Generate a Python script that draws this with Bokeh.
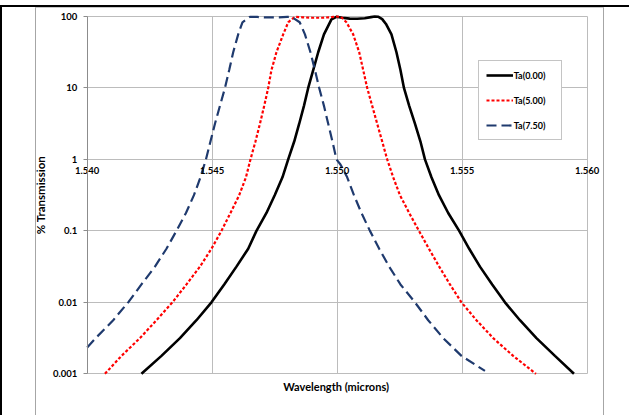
import math
from bokeh.plotting import figure
from bokeh.models import FixedTicker, Title, InlineStyleSheet
from bokeh.embed import file_html
from bokeh.resources import INLINE

# ---- data ----
x_ticks = [1.540, 1.545, 1.550, 1.555, 1.560]
x_tick_labels = ["1.540", "1.545", "1.550", "1.555", "1.560"]
y_ticks = [0.001, 0.01, 0.1, 1, 10, 100]
y_tick_labels = ["0.001", "0.01", "0.1", "1", "10", "100"]

ta000_wl = [1.54217, 1.54297, 1.54371, 1.54437, 1.54497, 1.54548, 1.54597, 1.54644, 1.54677,
            1.54717, 1.54750, 1.54781, 1.54804, 1.54828, 1.54848, 1.54867, 1.54884, 1.54904,
            1.54924, 1.54947, 1.54977, 1.54997, 1.55020, 1.55050, 1.55080, 1.55110, 1.55135,
            1.55150, 1.55165, 1.55180, 1.55195, 1.55217, 1.55237, 1.55253, 1.55267, 1.55288,
            1.55311, 1.55333, 1.55351, 1.55377, 1.55407, 1.55444, 1.55488, 1.55528, 1.55571,
            1.55620, 1.55671, 1.55731, 1.55797, 1.55871, 1.55947]
ta000_t = [0.001, 0.00178, 0.00316, 0.00562, 0.01, 0.0178, 0.0316, 0.0562, 0.1,
           0.178, 0.316, 0.562, 1.0, 1.78, 3.16, 5.62, 10.0, 17.8,
           31.6, 56.2, 91.0, 99.0, 96.0, 93.5, 93.0, 94.5, 98.0,
           100.0, 99.0, 92.0, 78.6, 56.2, 31.6, 17.8, 10.0, 5.62,
           3.16, 1.78, 1.0, 0.562, 0.316, 0.178, 0.1, 0.0562, 0.0316,
           0.0178, 0.01, 0.00562, 0.00316, 0.00178, 0.001]

ta500_wl = [1.54071, 1.54137, 1.54211, 1.54277, 1.54341, 1.54397, 1.54451, 1.54497, 1.54537,
            1.54573, 1.54608, 1.54635, 1.54653, 1.54673, 1.54691, 1.54708, 1.54724, 1.54737,
            1.54757, 1.54784, 1.54804, 1.54831, 1.54860, 1.54900, 1.54940, 1.54970, 1.54997,
            1.55015, 1.55037, 1.55064, 1.55088, 1.55104, 1.55120, 1.55140, 1.55160, 1.55180,
            1.55200, 1.55224, 1.55251, 1.55288, 1.55327, 1.55367, 1.55408, 1.55451, 1.55497,
            1.55557, 1.55624, 1.55704, 1.55795]
ta500_t = [0.001, 0.00178, 0.00316, 0.00562, 0.01, 0.0178, 0.0316, 0.0562, 0.1,
           0.178, 0.316, 0.562, 1.0, 1.78, 3.16, 5.62, 10.0, 17.8,
           31.6, 56.2, 83.0, 99.0, 97.5, 96.0, 96.0, 97.5, 99.5,
           99.0, 83.0, 56.2, 31.6, 17.8, 10.0, 5.62, 3.16, 1.78,
           1.0, 0.562, 0.316, 0.178, 0.1, 0.0562, 0.0316, 0.0178, 0.01,
           0.00562, 0.00316, 0.00178, 0.001]

ta750_wl = [1.54000, 1.54034, 1.54104, 1.54164, 1.54217, 1.54271, 1.54317, 1.54357, 1.54395,
            1.54427, 1.54453, 1.54475, 1.54493, 1.54511, 1.54531, 1.54551, 1.54568, 1.54584,
            1.54604, 1.54621, 1.54651, 1.54680, 1.54720, 1.54760, 1.54800, 1.54817, 1.54850,
            1.54871, 1.54893, 1.54911, 1.54928, 1.54947, 1.54964, 1.54981, 1.54997, 1.55013,
            1.55040, 1.55067, 1.55097, 1.55131, 1.55168, 1.55208, 1.55253, 1.55311, 1.55364,
            1.55424, 1.55497, 1.55591]
ta750_t = [0.00234, 0.00316, 0.00562, 0.01, 0.0178, 0.0316, 0.0562, 0.1, 0.178,
           0.316, 0.562, 1.0, 1.78, 3.16, 5.62, 10.0, 17.8, 31.6,
           56.2, 83.0, 99.0, 98.5, 97.0, 97.0, 98.5, 99.0, 83.0,
           56.2, 31.6, 17.8, 10.0, 5.62, 3.16, 1.78, 1.0, 0.85,
           0.562, 0.316, 0.178, 0.1, 0.0562, 0.0316, 0.0178, 0.01, 0.00562,
           0.00316, 0.00178, 0.0011]

series_names = ["Ta(0.00)", "Ta(5.00)", "Ta(7.50)"]
x_title = "Wavelength (microns)"
y_title = "% Transmission"

FONT = "Lato"

# ---- layout: the Bokeh frame is a bit larger than the plot area so that the
# axis crossing at y = 1 and the left axis can be drawn inside it unclipped ----
W, H = 629, 415
PA_L, PA_R, PA_T, PA_B = 86.7, 586.7, 16.0, 373.3        # plot area (pixels)
FR_L, FR_R, FR_T, FR_B = 36, 600, 8, 377                 # Bokeh frame (pixels)
x0, x1 = x_ticks[0], x_ticks[-1]
ly0, ly1 = math.log10(y_ticks[0]), math.log10(y_ticks[-1])
kx = (x1 - x0) / (PA_R - PA_L)
ky = (ly1 - ly0) / (PA_B - PA_T)
x_range = (x0 - (PA_L - FR_L) * kx, x1 + (FR_R - PA_R) * kx)
y_range = (10 ** (ly0 - (FR_B - PA_B) * ky), 10 ** (ly1 + (PA_T - FR_T) * ky))

p = figure(width=W, height=H, y_axis_type="log",
           x_range=x_range, y_range=y_range,
           output_backend="svg", toolbar_location=None,
           min_border_left=FR_L, min_border_right=W - FR_R,
           min_border_top=FR_T, min_border_bottom=H - FR_B,
           background_fill_color="white", border_fill_color="white")
p.outline_line_color = None

# grids limited to the plot area
p.xgrid.ticker = FixedTicker(ticks=x_ticks)
p.ygrid.ticker = FixedTicker(ticks=y_ticks)
p.xgrid.bounds = (x0, x1)
p.ygrid.bounds = (y_ticks[0], y_ticks[-1])
p.xgrid.cross_bounds = (y_ticks[0], y_ticks[-1])
p.ygrid.cross_bounds = (x0, x1)
p.xgrid.grid_line_color = "#bcbcbc"
p.ygrid.grid_line_color = "#bcbcbc"
p.ygrid.minor_grid_line_color = None

# y axis pinned at the left edge of the plot area
ya = p.yaxis[0]
ya.fixed_location = x0
ya.bounds = (y_ticks[0], y_ticks[-1])
ya.ticker = FixedTicker(ticks=y_ticks)
ya.major_label_overrides = {t: l for t, l in zip(y_ticks, y_tick_labels)}
ya.axis_line_color = "#8c8c8c"
ya.major_tick_line_color = "#8c8c8c"
ya.major_tick_out = 4
ya.major_tick_in = 0
ya.minor_tick_line_color = None
ya.major_label_standoff = 6
ya.major_label_text_font = FONT
ya.major_label_text_font_style = "bold"
ya.major_label_text_font_size = "9.5px"
ya.major_label_text_color = "black"
ya.axis_label = y_title
ya.axis_label_text_font = FONT
ya.axis_label_text_font_style = "bold"
ya.axis_label_text_font_size = "11.5px"
ya.axis_label_text_color = "black"
ya.axis_label_standoff = 3

# x axis crossing at y = 1 (tick labels only)
xa = p.xaxis[0]
xa.fixed_location = 1
xa.ticker = FixedTicker(ticks=x_ticks)
xa.major_label_overrides = {t: l for t, l in zip(x_ticks, x_tick_labels)}
xa.axis_line_color = None
xa.major_tick_line_color = None
xa.minor_tick_line_color = None
xa.major_tick_out = 0
xa.major_tick_in = 0
xa.major_label_standoff = 8
xa.major_label_text_font = FONT
xa.major_label_text_font_style = "bold"
xa.major_label_text_font_size = "9.5px"
xa.major_label_text_color = "black"

# x axis title below the plot area, centred on the plot area
title_w = 108         # approximate rendered width of the title text, px
plot_centre = (PA_L + PA_R) / 2
p.add_layout(Title(text=x_title, align="left", offset=plot_centre - title_w / 2 - FR_L,
                   standoff=0, text_font=FONT, text_font_style="bold",
                   text_font_size="11px", text_color="black"), "below")

# series
p.line(ta000_wl, ta000_t, line_color="black", line_width=2.6, legend_label=series_names[0])
p.line(ta500_wl, ta500_t, line_color="#ff0000", line_width=2.2, line_dash="3 2",
       legend_label=series_names[1])
p.line(ta750_wl, ta750_t, line_color="#1f3a6e", line_width=2.2, line_dash="10 5",
       legend_label=series_names[2])

lg = p.legend[0]
lg.location = (477.7 - FR_L, FR_B - 140)
lg.padding = 7
lg.margin = 0
lg.spacing = 11
lg.glyph_height = 14
lg.label_height = 14
lg.glyph_width = 27
lg.label_standoff = 1
lg.label_width = 40
lg.label_text_font = FONT
lg.label_text_font_style = "bold"
lg.label_text_font_size = "9px"
lg.label_text_color = "black"
lg.border_line_color = "#8a8a8a"
lg.border_line_width = 1
lg.background_fill_color = "white"
lg.background_fill_alpha = 1

# page decorations around the chart (document frame), drawn with CSS
css = """
:host { position: relative; }
:host::before {
  content: ""; position: absolute; left: 0px; top: 5px; width: 629px; height: 410px;
  border-top: 2px solid #000; border-left: 2px solid #000; box-sizing: border-box;
  pointer-events: none; z-index: 20;
}
:host::after {
  content: ""; position: absolute; left: 35px; top: 7px; width: 569px; height: 408px;
  border-top: 1px solid #c8c8c8; border-left: 1px solid #a6a6a6; border-right: 1px solid #a6a6a6;
  box-sizing: border-box; pointer-events: none; z-index: 20;
}
"""
p.stylesheets = [InlineStyleSheet(css=css)]

open("out.html", "w").write(file_html(p, INLINE))
